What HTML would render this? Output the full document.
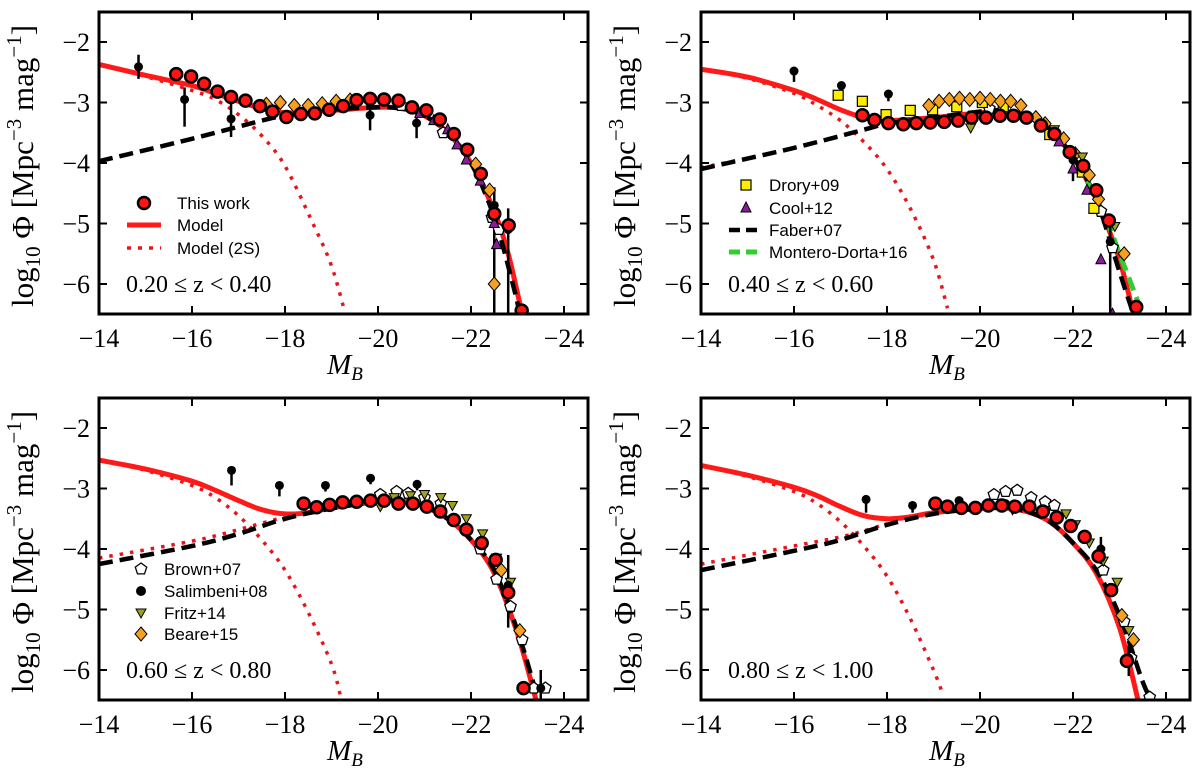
<!DOCTYPE html>
<html><head><meta charset="utf-8">
<style>
html,body{margin:0;padding:0;background:#fff;}
svg{display:block;}
.tick{font-family:"Liberation Serif",serif;font-size:26px;fill:#000;}
.leg{font-family:"Liberation Sans",sans-serif;font-size:17px;fill:#000;}
</style></head>
<body>
<svg id="fig" width="1200" height="776" viewBox="0 0 1200 776" xmlns="http://www.w3.org/2000/svg"></svg>
<script>
// ---------------- DATA ----------------
const zLabels = ["0.20 \u2264 z < 0.40","0.40 \u2264 z < 0.60","0.60 \u2264 z < 0.80","0.80 \u2264 z < 1.00"];
const xTicks = [-14,-16,-18,-20,-22,-24];
const yTicks = [-2,-3,-4,-5,-6];

const model1 = [[-14,-2.37],[-15,-2.55],[-16,-2.72],[-16.5,-2.85],[-17,-2.98],[-17.5,-3.1],[-18,-3.17],[-19,-3.13],[-20,-3.08],[-20.5,-3.1],[-21,-3.22],[-21.5,-3.5],[-22,-4.0],[-22.5,-4.8],[-22.8,-5.5],[-23.1,-6.5]];
const model2 = [[-14,-2.45],[-15,-2.58],[-16,-2.8],[-16.5,-2.95],[-17,-3.12],[-17.5,-3.25],[-18,-3.3],[-19,-3.25],[-20,-3.17],[-20.5,-3.15],[-21,-3.22],[-21.5,-3.45],[-22,-3.9],[-22.5,-4.6],[-23,-5.6],[-23.3,-6.5]];
const model3 = [[-14,-2.53],[-15,-2.68],[-16,-2.88],[-16.5,-3.03],[-17,-3.2],[-17.5,-3.35],[-18,-3.42],[-18.5,-3.4],[-19,-3.32],[-20,-3.22],[-20.5,-3.2],[-21,-3.3],[-21.5,-3.5],[-22,-3.85],[-22.5,-4.4],[-23,-5.4],[-23.4,-6.5]];
const model4 = [[-14,-2.62],[-15,-2.78],[-16,-2.98],[-16.5,-3.12],[-17,-3.3],[-17.5,-3.45],[-18,-3.5],[-18.5,-3.47],[-19,-3.4],[-20,-3.33],[-20.5,-3.32],[-21,-3.38],[-21.5,-3.55],[-22,-3.9],[-22.5,-4.4],[-23,-5.3],[-23.4,-6.5]];
const bright1 = [[-14,-2.37],[-15,-2.57],[-16,-2.8],[-16.5,-2.95],[-17,-3.2],[-17.5,-3.55],[-18,-4.05],[-18.6,-5.0],[-19,-5.7],[-19.3,-6.5]];
const bright2 = [[-14,-2.45],[-15,-2.6],[-16,-2.85],[-16.5,-3.05],[-17,-3.3],[-17.5,-3.65],[-18,-4.1],[-18.5,-4.75],[-19,-5.6],[-19.3,-6.4]];
const bright3 = [[-14,-2.53],[-15,-2.7],[-16,-2.95],[-16.5,-3.15],[-17,-3.45],[-17.5,-3.85],[-18,-4.35],[-18.5,-5.05],[-19,-5.9],[-19.2,-6.45]];
const bright4 = [[-14,-2.62],[-15,-2.8],[-16,-3.05],[-16.5,-3.25],[-17,-3.55],[-17.5,-3.95],[-18,-4.45],[-18.5,-5.15],[-19,-6.0],[-19.2,-6.4]];
const faint1 = [[-14,-3.97],[-16,-3.6],[-17,-3.4],[-17.5,-3.3],[-18,-3.22]];
const faint2 = [[-14,-4.08],[-15,-3.92],[-16,-3.75],[-17,-3.55],[-17.5,-3.45],[-18,-3.35]];
const faint3 = [[-14,-4.15],[-16,-3.87],[-17,-3.68],[-18,-3.47],[-18.5,-3.4]];
const faint4 = [[-14,-4.25],[-16,-3.95],[-17,-3.8],[-17.5,-3.7],[-18,-3.58]];
const faber1 = [[-14,-3.97],[-16,-3.6],[-17.5,-3.3],[-18,-3.22],[-19,-3.12],[-20,-3.08],[-20.5,-3.1],[-21,-3.22],[-21.5,-3.5],[-22,-4.0],[-22.5,-4.9],[-22.9,-6.0],[-23.05,-6.5]];
const faber2 = [[-14,-4.1],[-16,-3.75],[-17.5,-3.45],[-18,-3.35],[-19,-3.25],[-20,-3.15],[-20.5,-3.13],[-21,-3.22],[-21.5,-3.45],[-22,-3.9],[-22.5,-4.6],[-23,-5.8],[-23.3,-6.5]];
const faber3 = [[-14,-4.25],[-16,-3.95],[-17,-3.75],[-18,-3.5],[-19,-3.33],[-20,-3.22],[-20.5,-3.2],[-21,-3.3],[-21.5,-3.5],[-22,-3.85],[-22.5,-4.35],[-23,-5.35],[-23.45,-6.5]];
const faber4 = [[-14,-4.35],[-16,-4.03],[-17,-3.85],[-18,-3.6],[-19,-3.42],[-20,-3.33],[-20.5,-3.32],[-21,-3.38],[-21.5,-3.55],[-22,-3.9],[-22.5,-4.35],[-23,-5.1],[-23.5,-6.2],[-23.7,-6.5]];
const montero2 = [[-22.3,-4.3],[-22.7,-4.9],[-23,-5.5],[-23.3,-6.1],[-23.5,-6.5]];

const tw1 = [[-15.66,-2.53],[-15.98,-2.57],[-16.26,-2.69],[-16.55,-2.82],[-16.84,-2.91],[-17.15,-2.97],[-17.46,-3.06],[-17.73,-3.15],[-18.03,-3.24],[-18.34,-3.19],[-18.64,-3.18],[-18.95,-3.12],[-19.25,-3.06],[-19.54,-2.96],[-19.83,-2.94],[-20.13,-2.95],[-20.44,-2.97],[-20.73,-3.08],[-21.04,-3.13],[-21.33,-3.28],[-21.63,-3.52],[-21.92,-3.78],[-22.21,-4.18],[-22.5,-4.84],[-22.81,-5.03],[-23.09,-6.44]];
const tw2 = [[-17.47,-3.21],[-17.73,-3.29],[-18.03,-3.34],[-18.35,-3.36],[-18.63,-3.34],[-18.93,-3.33],[-19.23,-3.32],[-19.53,-3.3],[-19.82,-3.25],[-20.13,-3.25],[-20.43,-3.22],[-20.72,-3.22],[-21.0,-3.25],[-21.31,-3.38],[-21.6,-3.52],[-21.93,-3.82],[-22.22,-4.05],[-22.5,-4.45],[-22.77,-4.95],[-23.36,-6.38]];
const tw3 = [[-18.4,-3.25],[-18.68,-3.31],[-18.96,-3.27],[-19.24,-3.23],[-19.54,-3.22],[-19.84,-3.2],[-20.13,-3.2],[-20.44,-3.25],[-20.75,-3.25],[-21.05,-3.3],[-21.34,-3.38],[-21.63,-3.52],[-21.9,-3.68],[-22.23,-3.9],[-22.53,-4.18],[-22.8,-4.72],[-23.13,-6.3]];
const tw4 = [[-19.04,-3.25],[-19.3,-3.3],[-19.6,-3.32],[-19.9,-3.32],[-20.18,-3.28],[-20.47,-3.28],[-20.75,-3.3],[-21.06,-3.3],[-21.35,-3.38],[-21.65,-3.48],[-21.95,-3.62],[-22.25,-3.8],[-22.55,-4.12],[-22.82,-4.68],[-23.16,-5.85]];
const sal1 = [[-14.85,-2.41,0.2,0.2],[-15.84,-2.95,0.45,0.2],[-16.84,-3.27,0.3,0.3],[-19.83,-3.21,0.25,0.2],[-20.83,-3.34,0.25,0.2],[-22.5,-4.7,1.8,0.3],[-22.8,-5.1,1.4,0.35]];
const sal2 = [[-16.0,-2.48,0.18,0.0],[-17.02,-2.72,0.18,0.0],[-18.03,-2.86,0.12,0.0],[-22.0,-3.95,0.35,0.2],[-22.8,-5.3,1.2,0.3]];
const sal3 = [[-16.85,-2.7,0.25,0.0],[-17.88,-2.95,0.18,0.0],[-18.87,-2.95,0.1,0.0],[-19.84,-2.83,0.1,0.0],[-20.84,-2.93,0.1,0.0],[-22.8,-4.6,0.7,0.5],[-23.5,-6.3,0.3,0.3]];
const sal4 = [[-17.55,-3.18,0.22,0.0],[-18.55,-3.28,0.12,0.0],[-19.55,-3.2,0.1,0.0],[-20.55,-3.25,0.1,0.0],[-22.6,-4.0,0.25,0.2],[-23.2,-5.8,0.3,0.3]];
const beare1 = [[-17.6,-3.03],[-17.9,-3.0],[-18.2,-3.05],[-18.5,-3.05],[-18.8,-3.02],[-19.1,-2.98],[-19.4,-2.96],[-22.1,-4.02],[-22.4,-4.45],[-22.5,-6.0]];
const beare2 = [[-18.9,-3.05],[-19.12,-2.98],[-19.34,-2.95],[-19.56,-2.93],[-19.78,-2.95],[-20.0,-2.93],[-20.22,-2.95],[-20.44,-2.98],[-20.66,-2.98],[-20.88,-3.05],[-21.2,-3.25],[-21.4,-3.35],[-21.8,-3.6],[-22.05,-3.85],[-22.35,-4.2],[-22.55,-4.6],[-23.1,-5.5]];
const beare3 = [[-22.65,-4.35],[-23.05,-5.35]];
const beare4 = [[-23.05,-5.1],[-23.3,-5.5]];
const cool1 = [[-20.9,-3.18],[-21.2,-3.3],[-21.5,-3.45],[-21.7,-3.7],[-21.9,-3.95],[-22.2,-4.3],[-22.5,-5.0],[-22.55,-5.35]];
const cool2 = [[-21.7,-3.65],[-22.0,-4.1],[-22.3,-4.45],[-22.6,-5.6],[-22.85,-6.5]];
const brown1 = [[-20.5,-3.05],[-21.4,-3.5],[-22.45,-4.9],[-22.6,-5.1]];
const brown2 = [[-20.2,-3.1],[-22.6,-4.8],[-22.85,-5.4]];
const brown3 = [[-20.05,-3.1],[-20.4,-3.05],[-20.65,-3.08],[-21.0,-3.15],[-21.35,-3.25],[-22.2,-4.0],[-22.55,-4.5],[-22.85,-4.95],[-23.1,-5.5],[-23.35,-6.3],[-23.6,-6.3]];
const brown4 = [[-20.3,-3.1],[-20.55,-3.05],[-20.8,-3.03],[-21.1,-3.15],[-21.4,-3.22],[-21.6,-3.28],[-22.65,-4.35],[-23.1,-5.2],[-23.25,-5.8],[-23.65,-6.45]];
const fritz2 = [[-19.8,-3.42],[-21.6,-3.45],[-22.2,-3.9],[-22.9,-5.05]];
const fritz3 = [[-20.05,-3.3],[-20.35,-3.15],[-20.7,-3.12],[-21.0,-3.1],[-21.35,-3.15],[-21.6,-3.28],[-21.9,-3.5],[-22.25,-3.75],[-22.55,-4.15],[-22.85,-4.55]];
const fritz4 = [[-20.7,-3.35],[-21.4,-3.4],[-21.85,-3.42],[-22.05,-3.6],[-22.35,-3.9],[-22.65,-4.2],[-22.95,-4.55],[-23.2,-5.35]];
const drory2 = [[-16.95,-2.88],[-17.47,-2.98],[-17.98,-3.2],[-18.5,-3.13],[-18.98,-3.12],[-19.5,-3.07],[-20.05,-3.0],[-20.5,-3.07],[-21.5,-3.53],[-22.2,-4.15],[-22.45,-4.75]];

// ---------------- DRAW ----------------
const NS = "http://www.w3.org/2000/svg";
const svg = document.getElementById("fig");
function mk(tag, attrs, parent){
  const e = document.createElementNS(NS, tag);
  for (const k in attrs) e.setAttribute(k, attrs[k]);
  (parent||svg).appendChild(e);
  return e;
}
function smoothPath(P){
  let d = "M" + P[0][0].toFixed(1) + "," + P[0][1].toFixed(1);
  for (let i = 0; i < P.length - 1; i++){
    const p0 = P[i-1] || P[i], p1 = P[i], p2 = P[i+1], p3 = P[i+2] || P[i+1];
    const c1x = p1[0] + (p2[0]-p0[0])/6, c1y = p1[1] + (p2[1]-p0[1])/6;
    const c2x = p2[0] - (p3[0]-p1[0])/6, c2y = p2[1] - (p3[1]-p1[1])/6;
    d += " C" + c1x.toFixed(1) + "," + c1y.toFixed(1) + " " + c2x.toFixed(1) + "," + c2y.toFixed(1) + " " + p2[0].toFixed(1) + "," + p2[1].toFixed(1);
  }
  return d;
}
const PW = 489, PH = 302;
const origins = [[99,0],[701,0],[99,386],[701,386]];

function panel(idx, d){
  const ox = origins[idx][0], oy = origins[idx][1];
  const xs = M => ox + (-14 - M) * 46.5;
  const ys = v => oy + 42 + (-2 - v) * 60.5;
  const g = mk("g", {});
  
  
  const clipId = "clip" + idx;
  const cp = mk("clipPath", {id: clipId}, g);
  mk("rect", {x: ox, y: oy+12, width: PW, height: PH}, cp);
  const plot = mk("g", {"clip-path": "url(#" + clipId + ")"}, g);
  
  

  const line = (pts, stroke, w, dash, name) => {
    const p = mk("path", {d: smoothPath(pts.map(q => [xs(q[0]), ys(q[1])])), fill: "none", stroke: stroke, "stroke-width": w, "stroke-dasharray": dash || "none", "stroke-linejoin": "round"}, plot);
    
    
  };
  line(d.bright, "#e8141c", 3.5, "3.5,7", "model-2s-bright-line");
  line(d.faint, "#e8141c", 3.5, "3.5,7", "model-2s-faint-line");
  line(d.model, "#ff1a1a", 5, null, "model-line");
  line(d.faber, "#000", 4.5, "14,7", "faber07-line");
  if (d.montero) line(d.montero, "#33cc33", 5, "14,7", "montero-dorta16-line");

  (d.sal || []).forEach(p => {
    const e = mk("line", {x1: xs(p[0]), x2: xs(p[0]), y1: ys(p[1] - p[2]), y2: ys(p[1] + p[3]), stroke: "#000", "stroke-width": 2.5}, plot);
    
    
  });
  const marker = (type, M, v, name) => {
    const x = xs(M), y = ys(v);
    let e;
    if (type === "tw") e = mk("circle", {cx: x, cy: y, r: 6, fill: "#ff1414", stroke: "#000", "stroke-width": 2.5}, plot);
    else if (type === "sal") e = mk("circle", {cx: x, cy: y, r: 4.5, fill: "#000"}, plot);
    else if (type === "beare") e = mk("polygon", {points: [x,y-7, x+6,y, x,y+7, x-6,y].join(","), fill: "#f5a020", stroke: "#000", "stroke-width": 1}, plot);
    else if (type === "cool") e = mk("polygon", {points: [x,y-6, x+5,y+4, x-5,y+4].join(","), fill: "#8a1e9a", stroke: "#000", "stroke-width": 1}, plot);
    else if (type === "fritz") e = mk("polygon", {points: [x-5,y-4, x+5,y-4, x,y+5].join(","), fill: "#a0a020", stroke: "#000", "stroke-width": 1}, plot);
    else if (type === "drory") e = mk("rect", {x: x-5, y: y-5, width: 10, height: 10, fill: "#ffee00", stroke: "#000", "stroke-width": 1.2}, plot);
    else if (type === "brown") {
      const pts = [];
      for (let k = 0; k < 5; k++){ const a = -Math.PI/2 + k*2*Math.PI/5; pts.push((x+6*Math.cos(a)).toFixed(1)+","+(y+6*Math.sin(a)).toFixed(1)); }
      e = mk("polygon", {points: pts.join(" "), fill: "#fff", stroke: "#000", "stroke-width": 1.3}, plot);
    }
    
    
  };
  (d.brown || []).forEach(p => marker("brown", p[0], p[1], "brown07-point"));
  (d.drory || []).forEach(p => marker("drory", p[0], p[1], "drory09-point"));
  (d.beare || []).forEach(p => marker("beare", p[0], p[1], "beare15-point"));
  (d.cool || []).forEach(p => marker("cool", p[0], p[1], "cool12-point"));
  (d.fritz || []).forEach(p => marker("fritz", p[0], p[1], "fritz14-point"));
  (d.sal || []).forEach(p => marker("sal", p[0], p[1], "salimbeni08-point"));
  d.tw.forEach(p => marker("tw", p[0], p[1], "this-work-point"));

  const fr = mk("rect", {x: ox, y: oy+12, width: PW, height: PH, fill: "none", stroke: "#000", "stroke-width": 3}, g);
  
  
  xTicks.forEach(t => {
    const x = xs(t);
    mk("line", {x1: x, x2: x, y1: oy+314, y2: oy+306, stroke: "#000", "stroke-width": 2}, g);
    mk("line", {x1: x, x2: x, y1: oy+12, y2: oy+20, stroke: "#000", "stroke-width": 2}, g);
    const tl = mk("text", {x: x, y: oy+347, "text-anchor": "middle", class: "tick"}, g);
    tl.textContent = "\u2212" + Math.abs(t);
    
    
  });
  yTicks.forEach(t => {
    const y = ys(t);
    mk("line", {x1: ox, x2: ox+8, y1: y, y2: y, stroke: "#000", "stroke-width": 2}, g);
    mk("line", {x1: ox+PW, x2: ox+PW-8, y1: y, y2: y, stroke: "#000", "stroke-width": 2}, g);
    const tl = mk("text", {x: ox-9, y: y+9, "text-anchor": "end", class: "tick"}, g);
    tl.textContent = "\u2212" + Math.abs(t);
    
    
  });
  const xt = mk("text", {x: ox+246, y: oy+374, "text-anchor": "middle", "font-family": "Liberation Serif, serif", "font-size": 29, "font-style": "italic"}, g);
  xt.innerHTML = 'M<tspan font-size="19" dy="6">B</tspan>';
  
  
  const yt = mk("text", {transform: "translate(" + (ox-66) + "," + (oy+166) + ") rotate(-90)", "text-anchor": "middle", "font-family": "Liberation Serif, serif", "font-size": 31}, g);
  yt.innerHTML = 'log<tspan font-size="21" dy="7">10</tspan><tspan dy="-7"> \u03A6 [Mpc</tspan><tspan font-size="21" dy="-12">\u22123</tspan><tspan dy="12"> mag</tspan><tspan font-size="21" dy="-12">\u22121</tspan><tspan dy="12">]</tspan>';
  
  
  const zl = mk("text", {x: ox+27, y: oy+292, "font-family": "Liberation Serif, serif", "font-size": 24}, g);
  zl.textContent = zLabels[idx];
  
  
  return {ox, oy, g};
}

const P1 = panel(0, {model: model1, bright: bright1, faint: faint1, faber: faber1, tw: tw1, sal: sal1, beare: beare1, cool: cool1, brown: brown1});
const P2 = panel(1, {model: model2, bright: bright2, faint: faint2, faber: faber2, montero: montero2, tw: tw2, sal: sal2, beare: beare2, cool: cool2, brown: brown2, fritz: fritz2, drory: drory2});
const P3 = panel(2, {model: model3, bright: bright3, faint: faint3, faber: faber3, tw: tw3, sal: sal3, beare: beare3, brown: brown3, fritz: fritz3});
const P4 = panel(3, {model: model4, bright: bright4, faint: faint4, faber: faber4, tw: tw4, sal: sal4, beare: beare4, brown: brown4, fritz: fritz4});

// ---------------- LEGENDS ----------------
function legendText(P, x, y, txt){
  const t = mk("text", {x: P.ox + x, y: P.oy + y + 6, class: "leg"}, P.g);
  t.textContent = txt;
  return t;
}
function legLine(P, x, y, color, w, dash){
  return mk("line", {x1: P.ox+x-17, x2: P.ox+x+17, y1: P.oy+y, y2: P.oy+y, stroke: color, "stroke-width": w, "stroke-dasharray": dash||"none"}, P.g);
}
let e;
e = mk("circle", {cx: P1.ox+45, cy: P1.oy+203, r: 6, fill: "#ff1414", stroke: "#000", "stroke-width": 2.5}, P1.g);
 
e = legendText(P1, 78, 203, "This work");
 
e = legLine(P1, 45, 225, "#ff1a1a", 5);
 
e = legendText(P1, 78, 225, "Model");
 
e = legLine(P1, 45, 248, "#e8141c", 3.5, "4,7");
 
e = legendText(P1, 78, 248, "Model (2S)");
 

e = mk("rect", {x: P2.ox+40, y: P2.oy+180, width: 10, height: 10, fill: "#ffee00", stroke: "#000", "stroke-width": 1.2}, P2.g);
 
e = legendText(P2, 68, 185, "Drory+09");
 
e = mk("polygon", {points: [P2.ox+45,P2.oy+202, P2.ox+50,P2.oy+212, P2.ox+40,P2.oy+212].join(","), fill: "#8a1e9a", stroke: "#000", "stroke-width": 1}, P2.g);
 
e = legendText(P2, 68, 208, "Cool+12");
 
e = legLine(P2, 45, 230, "#000", 4.5, "11,6");
 
e = legendText(P2, 68, 230, "Faber+07");
 
e = legLine(P2, 45, 252, "#33cc33", 5, "11,6");
 
e = legendText(P2, 68, 252, "Montero-Dorta+16");
 

{
  const x = P3.ox+42, y = P3.oy+183, pts = [];
  for (let k = 0; k < 5; k++){ const a = -Math.PI/2 + k*2*Math.PI/5; pts.push((x+6*Math.cos(a)).toFixed(1)+","+(y+6*Math.sin(a)).toFixed(1)); }
  e = mk("polygon", {points: pts.join(" "), fill: "#fff", stroke: "#000", "stroke-width": 1.3}, P3.g);
   
}
e = legendText(P3, 65, 183, "Brown+07");
 
e = mk("circle", {cx: P3.ox+42, cy: P3.oy+205, r: 5, fill: "#000"}, P3.g);
 
e = legendText(P3, 65, 205, "Salimbeni+08");
 
e = mk("polygon", {points: [P3.ox+37,P3.oy+223, P3.ox+47,P3.oy+223, P3.ox+42,P3.oy+232].join(","), fill: "#a0a020", stroke: "#000", "stroke-width": 1}, P3.g);
 
e = legendText(P3, 65, 227, "Fritz+14");
 
e = mk("polygon", {points: [P3.ox+42,P3.oy+241, P3.ox+48,P3.oy+248, P3.ox+42,P3.oy+255, P3.ox+36,P3.oy+248].join(","), fill: "#f5a020", stroke: "#000", "stroke-width": 1}, P3.g);
 
e = legendText(P3, 65, 248, "Beare+15");
 
</script>
</body></html>
